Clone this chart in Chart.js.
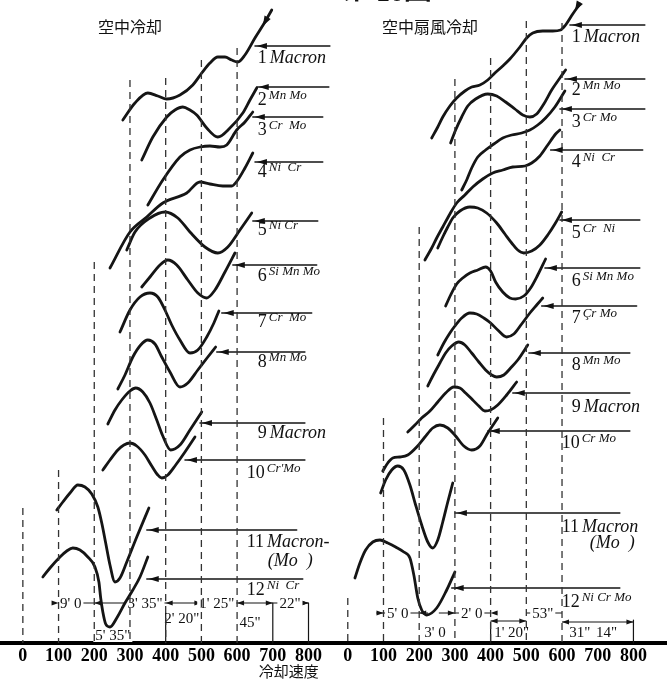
<!DOCTYPE html>
<html><head><meta charset="utf-8">
<script src="https://cdn.jsdelivr.net/npm/chart.js@4.4.0/dist/chart.umd.min.js"></script>
<style>html,body{margin:0;padding:0;background:#fff;}#wrap{width:667px;height:680px;position:relative;}</style>
</head><body><div id="wrap"><canvas id="c"></canvas></div>
<script>
// x: cooling speed axis (冷却速度), y: vertical offset of each curve above the axis
const OFFSET = 910; // right panel is placed on the same axis, shifted by this many units
const X_TICKS = [0,100,200,300,400,500,600,700,800];

const leftCurvesX = [
 [280,314,350,378,403,440,476,501,524,546,566,585,602,622,650,678,697],
 [333,364,403,426,448,468,487,515,546,580,616,636,655],
 [350,392,440,468,496,524,552,571,599,622,644],
 [244,300,347,392,459,496,524,560,585,602,622,644],
 [291,314,356,398,434,468,510,546,574,608,641],
 [333,356,384,406,431,462,490,515,538,566,594],
 [272,300,328,356,378,398,417,440,468,490,515,535,549],
 [266,286,308,330,350,370,389,412,440,462,490,518,540],
 [238,258,277,300,316,336,356,375,392,414,440,468,501],
 [224,244,266,283,300,319,342,361,378,389,406,428,454,482],
 [95,112,132,154,174,193,210,221,232,244,258,272,291,319,353],
 [56,76,104,123,140,160,182,202,213,218,224,232,244,263,286,308,328,350]
];
const leftCurvesY = [
 [523,540,550,547,544,548,558,570,580,586,586,583,581,588,605,621,633],
 [483,506,526,533,536,533,528,515,506,515,530,543,555],
 [438,463,486,493,496,497,496,498,513,521,531],
 [375,411,426,440,450,461,459,457,457,463,475,490],
 [393,411,425,431,425,411,396,390,396,413,430],
 [356,366,378,383,378,363,350,345,353,371,390],
 [311,333,346,350,346,333,318,303,290,293,306,320,332],
 [254,268,286,298,303,299,286,271,256,260,273,286,296],
 [219,233,243,252,255,251,240,223,207,193,198,213,231],
 [173,183,193,198,200,197,188,177,168,165,168,178,191,206],
 [133,141,150,158,156,149,136,120,100,78,61,65,81,106,135],
 [66,75,86,92,95,93,86,76,61,45,31,19,16,25,40,53,66,86]
];
const rightCurvesX = [
 [235,252,266,286,305,328,347,370,392,412,434,454,482,501,518,546,574,596,610,630,650],
 [288,302,319,336,358,392,417,442,468,490,510,529,549,571,594,610],
 [319,333,347,364,386,409,434,459,487,510,532,554,580,608],
 [216,235,249,266,286,305,328,350,378,406,434,462,496,515,538,560,582,594],
 [252,266,280,294,314,342,364,389,417,440,459,476,493,515,538,560,580,599],
 [274,288,305,322,342,364,386,400,414,434,454,470,493,512,532,554],
 [252,269,286,300,319,342,361,381,400,420,445,465,487,510,529,546],
 [224,241,258,274,291,311,328,347,367,386,403,417,437,456,476,504],
 [168,188,207,230,252,274,297,314,330,350,367,384,400,420,445,473],
 [98,112,126,146,168,193,216,238,258,280,302,325,347,370,392,420],
 [92,106,123,140,157,174,190,207,224,238,252,266,280,294],
 [20,34,50,70,90,112,134,157,174,185,196,207,221,249,277,300]
];
const rightCurvesY = [
 [505,516,526,537,545,552,556,558,563,570,577,584,596,605,610,612,612,613,618,629,639],
 [500,513,526,537,544,549,547,541,534,528,526,529,539,553,565,573],
 [453,463,475,486,493,499,505,508,510,513,518,525,536,552],
 [383,395,405,416,429,440,448,456,464,470,473,476,477,480,487,498,509,513],
 [395,406,416,425,432,436,435,430,420,409,400,393,390,392,398,408,419,431],
 [337,348,359,365,370,373,376,372,361,351,345,344,347,355,368,384],
 [288,300,310,317,325,330,329,325,320,313,306,309,319,330,338,345],
 [257,269,280,290,297,301,298,290,281,273,268,266,268,275,283,298],
 [211,218,225,232,241,250,256,255,250,243,237,232,233,238,248,261],
 [172,180,185,186,188,196,206,215,218,215,207,197,193,197,210,225],
 [150,163,173,177,173,158,138,118,101,95,103,121,141,160],
 [65,80,93,101,103,100,96,91,85,68,45,33,28,35,53,71]
];

// dashed guide lines
const guideX = [0,100,200,300,400,500,600];
const leftGuideTop = [135,173,381,563,565,583,595];
const rightGuideTop = [45,225,416,564,585,622,620];

// labelled arrows
const leftArrowY = [597,556,526,481,422,378,330,291,220,183,113,64];
const leftArrowFrom = [650,655,644,650,644,588,557,543,496,454,347,347];
const leftArrowTo = [860,857,840,840,826,823,809,790,790,790,767,784];
const rightArrowY = [618,564,534,493,423,375,337,290,250,212,130,55];
const rightArrowFrom = [622,608,594,568,594,552,543,507,462,392,300,291];
const rightArrowTo = [832,832,832,826,818,818,809,790,790,790,762,762];

const labelNum = ['1','2','3','4','5','6','7','8','9','10','11','12'];
const leftLabelName = ['Macron','Mn Mo','Cr  Mo','Ni  Cr','Ni Cr','Si Mn Mo','Cr  Mo','Mn Mo','Macron',"Cr'Mo",'Macron-','Ni  Cr'];
const rightLabelName = ['Macron','Mn Mo','Cr Mo','Ni  Cr','Cr  Ni','Si Mn Mo','Çr Mo','Mn Mo','Macron','Cr Mo','Macron','Ni Cr Mo'];
const leftLabelSmall = [false,true,true,true,true,true,true,true,false,true,false,true];
const rightLabelSmall = [false,true,true,true,true,true,true,true,false,true,false,true];
const leftLabelX = [658,658,658,658,658,658,658,658,658,627,627,627];
const leftLabelY = [585,543,513,471,413,367,321,281,210,170,101,53];
const rightLabelX = [627,627,627,627,627,627,627,627,627,599,599,599];
const rightLabelY = [606,553,521,481,410,362,325,278,236,200,116,41];
const subLabel = '(Mo  )';
const subLabelX = [686,678];
const subLabelY = [82,100];

// small arrow marks on the top ends of curve 1 (tip point and a point further up the curve)
const curveMarkPanel = [0,1];
const curveMarkX = [672,636];
const curveMarkY = [617,632];
const curveMarkToX = [692,652];
const curveMarkToY = [630,642];

const panelTitle = ['空中冷却','空中扇風冷却'];
const panelTitleX = [300,230];
const panelTitleY = 616;
const axisTitle = '冷却速度';

// timing annotations at the bottom
const dimLinePanel = [0,1,1,1,1,1];
const dimLineFrom = [100,80,255,400,500,600];
const dimLineTo = [800,225,400,500,600,800];
const dimLineY = [40,30,30,22,30,21];
const dimTextPanel = [0,0,0,0,0,0,0,1,1,1,1,1,1,1];
const dimText = ["9' 0","3' 35\"","1' 25\"","22\"","2' 20\"","45\"","5' 35\"","5' 0","2' 0","53\"","3' 0","1' 20\"","31\"","14\""];
const dimTextX = [134,342,543,748,445,636,252,140,347,546,244,459,650,725];
const dimTextY = [40,40,40,40,25,21,8,30,30,30,11,11,11,11];
const dimTickPanel = [0,0,0,1,1];
const dimTickX = [400,700,800,400,800];
const dimTickTop = [30,40,40,21,23];
const dimHeadPanel = [0,0,0,0,0,0,0,0,1,1,1,1,1,1,1,1];
const dimHeadX = [100,200,400,500,600,700,800,800,100,200,300,400,400,500,600,800];
const dimHeadY = [40,40,40,40,40,40,40,40,30,30,30,30,22,22,21,21];
const dimHeadDir = [1,-1,-1,1,-1,1,1,1,1,-1,1,-1,-1,1,-1,1];

const datasets = [];
function addLine(pts, opts) {
  datasets.push(Object.assign({data: pts, borderColor:'#151515', pointRadius:0, fill:false, clip:false, borderCapStyle:'round'}, opts));
}
[leftGuideTop, rightGuideTop].forEach((tops, p) => {
  guideX.forEach((x, i) => addLine([{x: x + p*OFFSET, y: tops[i]}, {x: x + p*OFFSET, y: 0}], {borderWidth:1.3, borderDash:[7,5], borderColor:'#333', borderCapStyle:'butt'}));
});
[[leftArrowFrom,leftArrowTo,leftArrowY],[rightArrowFrom,rightArrowTo,rightArrowY]].forEach((a, p) => {
  a[2].forEach((y, i) => addLine([{x: a[0][i] + p*OFFSET, y}, {x: a[1][i] + p*OFFSET, y}], {borderWidth:1.4}));
});
dimTickX.forEach((x, i) => addLine([{x: x + dimTickPanel[i]*OFFSET, y: dimTickTop[i]}, {x: x + dimTickPanel[i]*OFFSET, y: 0}], {borderWidth:1.2}));
[[leftCurvesX,leftCurvesY],[rightCurvesX,rightCurvesY]].forEach((c, p) => {
  c[0].forEach((xs, k) => addLine(xs.map((x, i) => ({x: x + p*OFFSET, y: c[1][k][i]})), {borderWidth:2.8, cubicInterpolationMode:'monotone'}));
});

const SERIF = '"Liberation Serif", "Times New Roman", serif';
const CJK = '"Noto Sans CJK JP", "Noto Sans CJK SC", sans-serif';

const deco = {
  id: 'deco',
  beforeDatasetsDraw(chart) {
    const ctx = chart.ctx, xs = chart.scales.x, ys = chart.scales.y;
    const X = (v, p) => xs.getPixelForValue(v + p*OFFSET), Y = v => ys.getPixelForValue(v);
    ctx.save();
    ctx.strokeStyle = '#151515'; ctx.lineWidth = 1.1;
    dimLineY.forEach((y, i) => {
      ctx.beginPath(); ctx.moveTo(X(dimLineFrom[i], dimLinePanel[i]), Y(y)); ctx.lineTo(X(dimLineTo[i], dimLinePanel[i]), Y(y)); ctx.stroke();
    });
    ctx.fillStyle = '#151515';
    dimHeadX.forEach((x, i) => {
      const tx = X(x, dimHeadPanel[i]), ty = Y(dimHeadY[i]), d = dimHeadDir[i];
      ctx.beginPath(); ctx.moveTo(tx, ty); ctx.lineTo(tx - d*7, ty - 2.5); ctx.lineTo(tx - d*7, ty + 2.5); ctx.closePath(); ctx.fill();
    });
    ctx.font = '15px ' + SERIF; ctx.textAlign = 'center'; ctx.textBaseline = 'middle';
    dimText.forEach((t, i) => {
      const x = X(dimTextX[i], dimTextPanel[i]), y = Y(dimTextY[i]);
      const w = ctx.measureText(t).width;
      ctx.fillStyle = '#fff'; ctx.fillRect(x - w/2 - 2, y - 7, w + 4, 14);
      ctx.fillStyle = '#111'; ctx.fillText(t, x, y + 1);
    });
    ctx.restore();
  },
  afterDatasetsDraw(chart) {
    const ctx = chart.ctx, xs = chart.scales.x, ys = chart.scales.y;
    const X = (v, p) => xs.getPixelForValue(v + p*OFFSET), Y = v => ys.getPixelForValue(v);
    ctx.save();
    ctx.fillStyle = '#111';
    // arrow heads of the labelled arrows
    [[leftArrowFrom,leftArrowY],[rightArrowFrom,rightArrowY]].forEach((a, p) => {
      a[1].forEach((y, i) => {
        const tx = X(a[0][i], p) + 2, ty = Y(y);
        ctx.beginPath(); ctx.moveTo(tx, ty); ctx.lineTo(tx + 10, ty - 3); ctx.lineTo(tx + 10, ty + 3); ctx.closePath(); ctx.fill();
      });
    });
    // arrow marks on curve 1
    curveMarkX.forEach((x, i) => {
      const p = curveMarkPanel[i];
      const tx = X(x, p), ty = Y(curveMarkY[i]);
      const bx = X(curveMarkToX[i], p), by = Y(curveMarkToY[i]);
      const a = Math.atan2(by - ty, bx - tx);
      const L = 10, W = 3.5;
      const cx = tx + Math.cos(a)*L, cy = ty + Math.sin(a)*L;
      ctx.beginPath(); ctx.moveTo(tx, ty);
      ctx.lineTo(cx - Math.sin(a)*W, cy + Math.cos(a)*W);
      ctx.lineTo(cx + Math.sin(a)*W, cy - Math.cos(a)*W);
      ctx.closePath(); ctx.fill();
    });
    // labels
    ctx.textAlign = 'left'; ctx.textBaseline = 'middle';
    [[leftLabelName,leftLabelSmall,leftLabelX,leftLabelY],[rightLabelName,rightLabelSmall,rightLabelX,rightLabelY]].forEach((L, p) => {
      labelNum.forEach((n, i) => {
        const x = X(L[2][i], p), y = Y(L[3][i]);
        ctx.font = '18px ' + SERIF; ctx.fillText(n, x, y);
        const w = ctx.measureText(n).width;
        if (L[1][i]) { ctx.font = 'italic 13px ' + SERIF; ctx.fillText(L[0][i], x + w + 2, y - 4); }
        else { ctx.font = 'italic 18px ' + SERIF; ctx.fillText(L[0][i], x + w + 3, y); }
      });
      ctx.font = 'italic 18px ' + SERIF;
      ctx.fillText(subLabel, X(subLabelX[p], p), Y(subLabelY[p]));
    });
    // titles
    ctx.textAlign = 'center';
    ctx.font = '16px ' + CJK;
    panelTitle.forEach((t, p) => ctx.fillText(t, X(panelTitleX[p], p), Y(panelTitleY)));
    ctx.font = '15px ' + CJK;
    ctx.fillText(axisTitle, X(745, 0), Y(-28));
    // figure caption, cut off by the top edge
    ctx.textBaseline = 'alphabetic';
    ctx.font = 'bold 28px ' + CJK;
    ctx.fillText('第', X(935, 0), Y(644));
    ctx.font = 'bold 28px ' + SERIF;
    ctx.fillText('10', X(1028, 0), Y(642));
    ctx.font = 'bold 28px ' + CJK;
    ctx.fillText('圖', X(1106, 0), Y(644));
    ctx.restore();
  }
};

new Chart(document.getElementById('c'), {
  type: 'line',
  data: { datasets },
  plugins: [deco],
  options: {
    responsive: true, maintainAspectRatio: false, animation: false,
    layout: { padding: 0 },
    plugins: { legend: { display: false }, tooltip: { enabled: false } },
    scales: {
      x: {
        type: 'linear', min: -64, max: 1804,
        afterBuildTicks(scale) { scale.ticks = X_TICKS.map(v => ({value: v})).concat(X_TICKS.map(v => ({value: v + OFFSET}))); },
        afterFit(scale) { scale.height = 37; },
        grid: { display: false, drawTicks: false },
        border: { display: true, color: '#000', width: 4 },
        ticks: { autoSkip: false, maxRotation: 0, minRotation: 0, padding: 3, color: '#000',
          font: { family: SERIF, size: 18, weight: 'bold' },
          callback: v => String(v >= OFFSET ? v - OFFSET : v) }
      },
      y: { type: 'linear', min: 0, max: 643, display: false }
    }
  }
});
</script></body></html>
